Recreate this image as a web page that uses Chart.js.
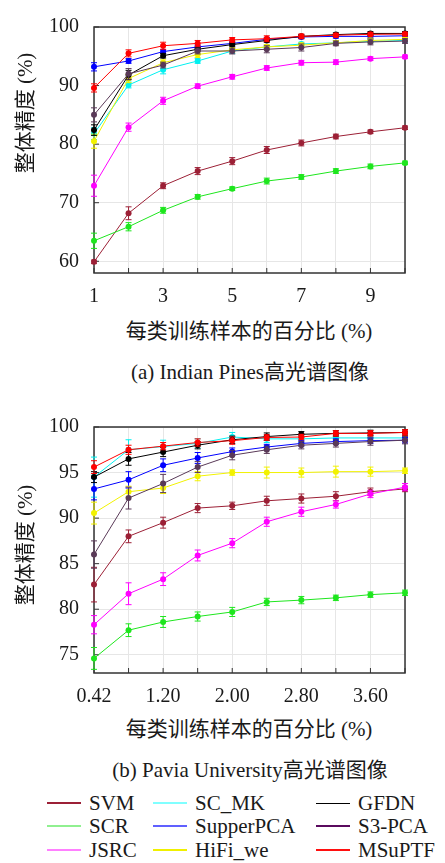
<!DOCTYPE html>
<html>
<head>
<meta charset="utf-8">
<script src="https://cdn.jsdelivr.net/npm/chart.js@4/dist/chart.umd.min.js"></script>
<style>
body { margin: 0; background: #fff; }
#page { position: relative; width: 445px; height: 863px; overflow: hidden;
  font-family: "Liberation Serif", "Times New Roman", "DejaVu Serif", "Noto Sans CJK SC", serif; color: #1a1a1a; }
canvas { position: absolute; left: 0; }
.lbl { position: absolute; white-space: nowrap; font-size: 21px; transform: translate(-50%, -50%); }
.ytitle { transform: translate(-50%, -50%) rotate(-90deg); }
.item { position: absolute; height: 24px; display: flex; align-items: center; font-size: 21px; white-space: nowrap; }
.item span.line { display: inline-block; width: 34px; height: 2px; margin-right: 8px; }
</style>
</head>
<body>
<div id="page">
  <canvas id="c1" width="445" height="310" style="top:0px"></canvas>
  <canvas id="c2" width="445" height="310" style="top:400px"></canvas>
  <div class="lbl ytitle" style="left:23px; top:113px">整体精度 (%)</div>
  <div class="lbl" style="left:249px; top:329px">每类训练样本的百分比 (%)</div>
  <div class="lbl" style="left:250px; top:370px">(a) Indian Pines高光谱图像</div>
  <div class="lbl ytitle" style="left:23px; top:545px">整体精度 (%)</div>
  <div class="lbl" style="left:249px; top:727px">每类训练样本的百分比 (%)</div>
  <div class="lbl" style="left:250px; top:768px">(b) Pavia University高光谱图像</div>
  <div id="legend"></div>
</div>
<script>
var names = ['SVM', 'SCR', 'JSRC', 'SC_MK', 'SupperPCA', 'HiFi_we', 'GFDN', 'S3-PCA', 'MSuPTF'];
var colors = ['#9c2036', '#1ee61e', '#ff00ff', '#00f0f0', '#0000ff', '#f2f200', '#000000', '#5a3a58', '#ff0000'];
var legendColors = ['#9c2036', '#90f090', '#ff80ff', '#80ffff', '#6060ff', '#f0f000', '#000000', '#5a0a5e', '#ff1010'];

// (a) Indian Pines
var ipLabels = ['1', '2', '3', '4', '5', '6', '7', '8', '9', '10'];
var ipTicks = [60, 70, 80, 90, 100];
var svm1 = [59.9, 68.2, 72.9, 75.4, 77.1, 79.0, 80.2, 81.3, 82.1, 82.8];
var scr1 = [63.5, 65.9, 68.7, 71.0, 72.4, 73.7, 74.4, 75.4, 76.2, 76.8];
var jsrc1 = [72.9, 82.9, 87.4, 89.9, 91.5, 93.0, 93.9, 94.0, 94.6, 94.9];
var scmk1 = [81.8, 90.1, 92.7, 94.2, 95.9, 96.6, 97.1, 97.3, 97.55, 97.7];
var supca1 = [93.2, 94.2, 95.8, 96.6, 97.2, 97.9, 98.3, 98.4, 98.4, 98.5];
var hifi1 = [80.5, 91.2, 93.9, 95.3, 96.1, 96.6, 96.9, 97.3, 97.7, 97.9];
var gfdn1 = [82.4, 91.8, 95.1, 96.2, 97.0, 97.7, 98.4, 98.7, 98.9, 98.9];
var s3pca1 = [85.0, 92.0, 93.5, 95.9, 95.9, 96.2, 96.5, 97.2, 97.45, 97.6];
var msuptf1 = [89.6, 95.5, 96.8, 97.2, 97.8, 98.0, 98.4, 98.6, 98.75, 98.8];

var svmErr1 = [0.3, 1.1, 0.5, 0.6, 0.6, 0.6, 0.5, 0.4, 0.3, 0.3];
var scrErr1 = [1.3, 0.7, 0.5, 0.4, 0.3, 0.5, 0.4, 0.4, 0.4, 0.3];
var jsrcErr1 = [1.8, 0.7, 0.6, 0.4, 0.4, 0.4, 0.4, 0.4, 0.3, 0.3];
var scmkErr1 = [1.0, 0.5, 0.7, 0.4, 0.4, 0.3, 0.3, 0.3, 0.3, 0.3];
var supcaErr1 = [0.7, 0.4, 0.3, 0.3, 0.3, 0.3, 0.3, 0.3, 0.3, 0.3];
var hifiErr1 = [1.2, 0.7, 0.5, 0.5, 0.4, 0.4, 0.4, 0.4, 0.4, 0.3];
var gfdnErr1 = [0.9, 0.8, 0.4, 0.3, 0.3, 0.3, 0.3, 0.3, 0.3, 0.3];
var s3pcaErr1 = [1.2, 0.9, 0.5, 0.5, 0.5, 0.6, 0.6, 0.4, 0.5, 0.4];
var msuptfErr1 = [0.7, 0.6, 0.6, 0.5, 0.4, 0.5, 0.4, 0.3, 0.3, 0.3];

// (b) Pavia University
var puLabels = ['0.42', '0.80', '1.20', '1.60', '2.00', '2.40', '2.80', '3.20', '3.60', '4.00'];
var puTicks = [75, 80, 85, 90, 95, 100];
var svm2 = [82.7, 88.0, 89.5, 91.1, 91.35, 91.9, 92.15, 92.4, 92.9, 93.2];
var scr2 = [74.6, 77.7, 78.6, 79.2, 79.7, 80.8, 81.0, 81.25, 81.6, 81.8];
var jsrc2 = [78.3, 81.7, 83.3, 85.9, 87.25, 89.6, 90.7, 91.5, 92.65, 93.4];
var scmk2 = [94.5, 97.5, 97.85, 98.2, 98.9, 98.7, 98.7, 98.8, 98.8, 98.8];
var supca2 = [93.2, 94.2, 95.8, 96.6, 97.3, 97.8, 98.2, 98.4, 98.5, 98.55];
var hifi2 = [90.55, 92.9, 93.3, 94.6, 95.0, 95.0, 95.0, 95.1, 95.1, 95.2];
var gfdn2 = [94.5, 96.5, 97.25, 98.0, 98.6, 98.95, 99.2, 99.3, 99.35, 99.4];
var s3pca2 = [86.0, 92.2, 93.8, 95.6, 96.9, 97.5, 98.0, 98.2, 98.4, 98.55];
var msuptf2 = [95.6, 97.5, 97.9, 98.3, 98.5, 98.85, 98.9, 99.3, 99.3, 99.4];

var svmErr2 = [1.9, 0.7, 0.6, 0.5, 0.4, 0.5, 0.5, 0.5, 0.4, 0.3];
var scrErr2 = [1.2, 0.7, 0.6, 0.5, 0.5, 0.4, 0.4, 0.3, 0.3, 0.3];
var jsrcErr2 = [1.0, 1.2, 0.7, 0.6, 0.5, 0.5, 0.5, 0.4, 0.4, 0.4];
var scmkErr2 = [2.2, 1.1, 0.7, 0.5, 0.5, 0.4, 0.4, 0.3, 0.3, 0.3];
var supcaErr2 = [1.2, 0.9, 0.7, 0.6, 0.4, 0.3, 0.3, 0.3, 0.3, 0.3];
var hifiErr2 = [1.2, 0.6, 0.6, 0.5, 0.3, 0.6, 0.5, 0.6, 0.5, 0.3];
var gfdnErr2 = [0.6, 0.7, 0.5, 0.4, 0.4, 0.4, 0.3, 0.3, 0.3, 0.3];
var s3pcaErr2 = [1.5, 1.2, 1.0, 0.6, 0.5, 0.4, 0.4, 0.4, 0.4, 0.4];
var msuptfErr2 = [0.7, 0.5, 0.4, 0.4, 0.4, 0.3, 0.3, 0.3, 0.3, 0.3];

Chart.defaults.font.family = "'Liberation Serif', 'Times New Roman', 'DejaVu Serif', serif";
Chart.defaults.font.size = 20;
Chart.defaults.color = '#1a1a1a';

// frame around plot area + inward tick marks
var frame = {
  id: 'frame',
  beforeDatasetsDraw: function(chart) {
    var ctx = chart.ctx, a = chart.chartArea;
    ctx.save();
    ctx.strokeStyle = '#333';
    ctx.lineWidth = 1;
    chart.scales.y.ticks.forEach(function(t) {
      var py = chart.scales.y.getPixelForValue(t.value);
      ctx.beginPath(); ctx.moveTo(a.left, py); ctx.lineTo(a.left + 5, py); ctx.stroke();
    });
    chart.scales.x.ticks.forEach(function(t, i) {
      var px = chart.scales.x.getPixelForTick(i);
      ctx.beginPath(); ctx.moveTo(px, a.bottom); ctx.lineTo(px, a.bottom - 5); ctx.stroke();
    });
    ctx.lineWidth = 1.5;
    ctx.strokeRect(a.left, a.top, a.right - a.left, a.bottom - a.top);
    ctx.restore();
  }
};

var errorBars = {
  id: 'errorBars',
  afterDatasetDraw: function(chart, args) {
    var ds = chart.data.datasets[args.index];
    if (!ds.errors) return;
    var ctx = chart.ctx, y = chart.scales.y;
    ctx.save();
    ctx.strokeStyle = ds.borderColor;
    ctx.lineWidth = 1;
    args.meta.data.forEach(function(pt, i) {
      var e = ds.errors[i];
      var top = y.getPixelForValue(ds.data[i] + e);
      var bot = y.getPixelForValue(ds.data[i] - e);
      ctx.beginPath();
      ctx.moveTo(pt.x, top); ctx.lineTo(pt.x, bot);
      ctx.moveTo(pt.x - 3, top); ctx.lineTo(pt.x + 3, top);
      ctx.moveTo(pt.x - 3, bot); ctx.lineTo(pt.x + 3, bot);
      ctx.stroke();
    });
    ctx.restore();
  }
};

var makeChart = function(canvas, labels, series, errs, yMin, yMax, yTicks) {
  var datasets = series.map(function(vals, i) {
    return {
      label: names[i],
      data: vals,
      errors: errs[i],
      borderColor: colors[i],
      backgroundColor: colors[i],
      pointBackgroundColor: colors[i],
      pointBorderWidth: 0,
      pointRadius: 3,
      borderWidth: 1,
      tension: 0,
      clip: false,
      order: names.length - i
    };
  });
  return new Chart(canvas, {
    type: 'line',
    data: { labels: labels, datasets: datasets },
    plugins: [frame, errorBars],
    options: {
      responsive: false,
      animation: false,
      devicePixelRatio: 1,
      layout: { padding: { top: 14, right: 40, left: 0, bottom: 0 } },
      plugins: { legend: { display: false }, tooltip: { enabled: false } },
      scales: {
        x: {
          type: 'category',
          grid: { color: '#e6e6e6', drawTicks: false },
          border: { display: false },
          ticks: {
            autoSkip: false, maxRotation: 0, padding: 12,
            callback: function(v, i) { return i % 2 === 0 ? this.getLabelForValue(v) : ''; }
          },
          afterFit: function(s) { s.height = 37; }
        },
        y: {
          min: yMin, max: yMax,
          grid: { color: '#e6e6e6', drawTicks: false },
          border: { display: false },
          ticks: { padding: 15 },
          afterBuildTicks: function(s) { s.ticks = yTicks.map(function(v) { return { value: v }; }); },
          afterFit: function(s) { s.width = 94; }
        }
      }
    }
  });
};

makeChart(document.getElementById('c1'), ipLabels,
  [svm1, scr1, jsrc1, scmk1, supca1, hifi1, gfdn1, s3pca1, msuptf1],
  [svmErr1, scrErr1, jsrcErr1, scmkErr1, supcaErr1, hifiErr1, gfdnErr1, s3pcaErr1, msuptfErr1],
  58, 100, ipTicks);

makeChart(document.getElementById('c2'), puLabels,
  [svm2, scr2, jsrc2, scmk2, supca2, hifi2, gfdn2, s3pca2, msuptf2],
  [svmErr2, scrErr2, jsrcErr2, scmkErr2, supcaErr2, hifiErr2, gfdnErr2, s3pcaErr2, msuptfErr2],
  73, 100, puTicks);

// legend, three columns filled top to bottom
var colX = [47, 153, 316];
var rowY = [803, 826, 850];
var legend = document.getElementById('legend');
names.forEach(function(n, i) {
  var item = document.createElement('div');
  item.className = 'item';
  item.style.left = colX[Math.floor(i / 3)] + 'px';
  item.style.top = (rowY[i % 3] - 12) + 'px';
  var line = document.createElement('span');
  line.className = 'line';
  line.style.background = legendColors[i];
  if (n === 'GFDN') line.style.height = '1px';
  item.appendChild(line);
  item.appendChild(document.createTextNode(n));
  legend.appendChild(item);
});
</script>
</body>
</html>
